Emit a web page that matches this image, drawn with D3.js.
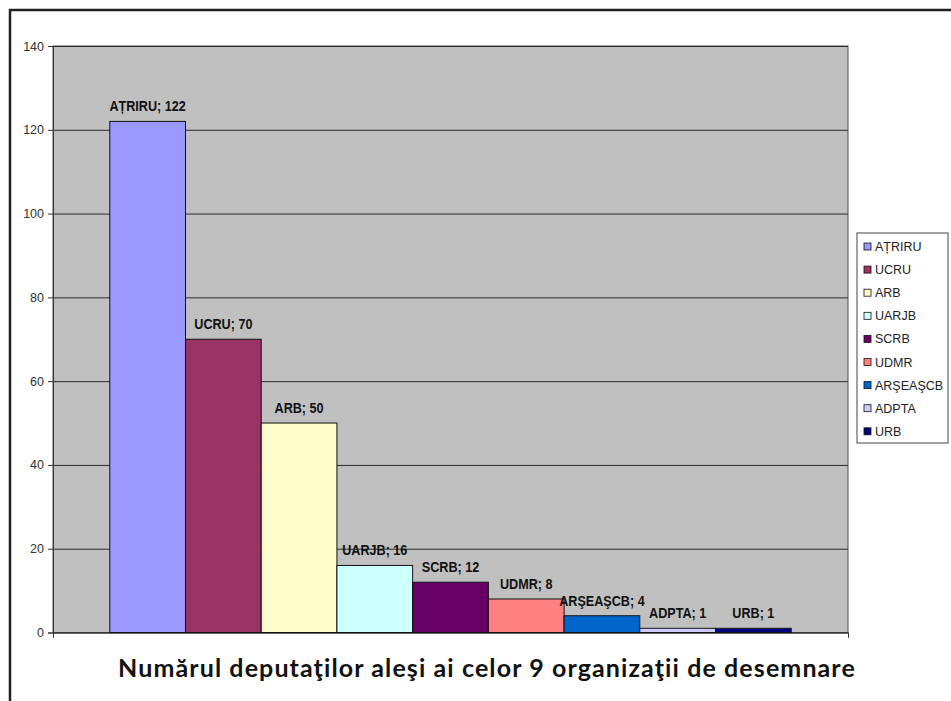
<!DOCTYPE html>
<html>
<head>
<meta charset="utf-8">
<script src="https://cdn.jsdelivr.net/npm/d3@7"></script>
<style>
  html, body { margin: 0; padding: 0; background: #fff; }
  svg { display: block; }
</style>
</head>
<body>
<svg id="chart" width="951" height="701"></svg>
<script>
const names = ["AȚRIRU", "UCRU", "ARB", "UARJB", "SCRB", "UDMR", "ARŞEAŞCB", "ADPTA", "URB"];
const values = [122, 70, 50, 16, 12, 8, 4, 1, 1];
const colors = ["#9999FF", "#993366", "#FFFFCC", "#CCFFFF", "#660066", "#FF8080", "#0066CC", "#CCCCFF", "#000080"];
const yTicks = [0, 20, 40, 60, 80, 100, 120, 140];
const title = "Numărul deputaţilor aleşi ai celor 9 organizaţii de desemnare";

const data = names.map((n, i) => ({ name: n, value: values[i], color: colors[i] }));

const svg = d3.select("#chart");
const plot = { left: 53, right: 848, top: 46, bottom: 632.5 };

// outer frame (top and left edges)
svg.append("line").attr("x1", 9).attr("x2", 951).attr("y1", 10).attr("y2", 10)
  .attr("stroke", "#222").attr("stroke-width", 2.5);
svg.append("line").attr("x1", 10).attr("x2", 10).attr("y1", 9).attr("y2", 701)
  .attr("stroke", "#222").attr("stroke-width", 2.5);

const y = d3.scaleLinear().domain([0, 140]).range([plot.bottom, plot.top]);
const x = d3.scaleBand().domain(names).range([plot.left, plot.right]).paddingInner(0).paddingOuter(0.75);

// plot background
svg.append("rect")
  .attr("x", plot.left).attr("y", plot.top)
  .attr("width", plot.right - plot.left).attr("height", plot.bottom - plot.top)
  .attr("fill", "#C0C0C0").attr("stroke", "#555").attr("stroke-width", 1);

// gridlines
const grid = svg.append("g").attr("transform", `translate(${plot.left},0)`)
  .call(d3.axisLeft(y).tickValues(yTicks).tickSize(-(plot.right - plot.left)).tickFormat(""));
grid.select(".domain").remove();
grid.selectAll(".tick line").attr("stroke", "#2a2a2a").attr("stroke-width", 1);

// y axis
const yAxis = svg.append("g").attr("transform", `translate(${plot.left},0)`)
  .call(d3.axisLeft(y).tickValues(yTicks).tickSize(5).tickPadding(4));
yAxis.select(".domain").attr("stroke", "#333");
yAxis.selectAll(".tick line").attr("stroke", "#333");
yAxis.selectAll(".tick text")
  .attr("font-family", "'Liberation Sans', Arial, sans-serif")
  .attr("font-size", 12.5).attr("fill", "#333");

// x axis (single category, ticks at both ends)
const xEdge = d3.scaleLinear().domain([0, 1]).range([plot.left, plot.right]);
const xAxis = svg.append("g").attr("transform", `translate(0,${plot.bottom})`)
  .call(d3.axisBottom(xEdge).tickValues([0, 1]).tickSize(5).tickFormat(""));
xAxis.select(".domain").attr("stroke", "#333");
xAxis.selectAll(".tick line").attr("stroke", "#333");

// bars
svg.append("g").selectAll("rect").data(data).join("rect")
  .attr("x", d => x(d.name))
  .attr("y", d => y(d.value))
  .attr("width", x.bandwidth())
  .attr("height", d => y(0) - y(d.value))
  .attr("fill", d => d.color)
  .attr("stroke", "#111").attr("stroke-width", 1);

// data labels
const labelScale = 0.87;
svg.append("g").selectAll("text").data(data).join("text")
  .attr("transform", d => `translate(${x(d.name) + x.bandwidth() / 2},${y(d.value) - 10}) scale(${labelScale},1)`)
  .attr("text-anchor", "middle")
  .attr("font-family", "'Liberation Sans', Arial, sans-serif")
  .attr("font-weight", "bold")
  .attr("font-size", 14.5)
  .attr("fill", "#111")
  .text(d => `${d.name}; ${d.value}`);

// legend
const legend = { x: 857, y: 233, w: 91, h: 210 };
svg.append("rect").attr("x", legend.x).attr("y", legend.y)
  .attr("width", legend.w).attr("height", legend.h)
  .attr("fill", "#fff").attr("stroke", "#444").attr("stroke-width", 1);
const li = svg.append("g").selectAll("g").data(data).join("g")
  .attr("transform", (d, i) => `translate(${legend.x + 7},${legend.y + 13.5 + i * 23.1})`);
li.append("rect").attr("x", 0).attr("y", -3.5).attr("width", 7).attr("height", 7)
  .attr("fill", d => d.color).attr("stroke", "#111").attr("stroke-width", 0.8);
li.append("text").attr("x", 11).attr("y", 4.5)
  .attr("font-family", "'Liberation Sans', Arial, sans-serif")
  .attr("font-size", 12.5).attr("fill", "#222")
  .text(d => d.name);

// title
svg.append("text")
  .attr("x", 487).attr("y", 677)
  .attr("text-anchor", "middle")
  .attr("font-family", "Lato, 'Open Sans', sans-serif")
  .attr("font-weight", "bold")
  .attr("font-size", 25)
  .attr("letter-spacing", 1.1)
  .attr("fill", "#111")
  .text(title);
</script>
</body>
</html>
